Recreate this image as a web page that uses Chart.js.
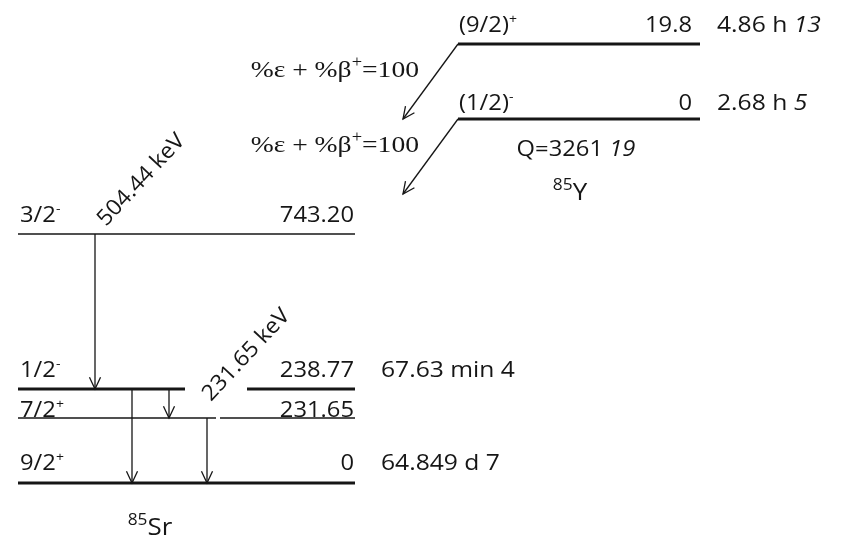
<!DOCTYPE html>
<html>
<head>
<meta charset="utf-8">
<script src="https://cdn.jsdelivr.net/npm/chart.js@4.4.1/dist/chart.umd.min.js"></script>
<style>
  html, body { margin: 0; padding: 0; background: #ffffff; }
  canvas { display: block; }
</style>
</head>
<body>
<canvas id="scheme" width="841" height="546"></canvas>
<script>
// ----- 85Y parent levels (lowest first) -----
const parentNuclide = ['85', 'Y'];
const parentLevelEnergies = ['0', '19.8'];          // keV
const parentSpins = ['(1/2)-', '(9/2)+'];
const parentHalfLives = [['2.68 h', '5'], ['4.86 h', '13']];
const parentQValue = ['3261', '19'];                 // keV
const decayModes = ['%ε + %β+', '%ε + %β+'];
const decayIntensities = [100, 100];

// ----- 85Sr daughter levels (lowest first) -----
const daughterNuclide = ['85', 'Sr'];
const daughterLevelEnergies = ['0', '231.65', '238.77', '743.20'];  // keV
const daughterSpins = ['9/2+', '7/2+', '1/2-', '3/2-'];
const daughterHalfLives = [['64.849 d', '7'], null, ['67.63 min', '4'], null];

// ----- gamma transitions (indices into the daughter levels) -----
const gammaFrom = [3, 2, 2, 1];
const gammaTo = [2, 1, 0, 0];
const gammaLabels = ['504.44 keV', null, null, '231.65 keV'];

// ----- drawing layout (schematic, in drawing units) -----
const layout = {
  daughter: {
    x0: 18, x1: 355,
    rows: [483, 418, 389, 234],
    labelRows: [470, 417, 377, 222],
    thick: [true, false, true, false],
    gaps: [null, [216, 220], [185, 247], null],
    energyRight: 354, halfLifeLeft: 381,
    nuclideX: 150, nuclideRow: 535
  },
  parent: {
    x0: 458, x1: 700,
    rows: [119, 44],
    labelRows: [110, 32],
    energyRight: 692, halfLifeLeft: 717,
    qX: 576, qRow: 156,
    nuclideX: 570, nuclideRow: 200
  },
  gammaX: [95, 169, 132, 207],
  gammaLabelAt: [[106, 227], null, null, [211, 402]],
  gammaLabelAngle: -47,
  decayTipX: 403, decayDrop: 75,
  branchRight: 419, branchRows: [77, 152]
};

const INK = '#161616';
const SANS = '"Open Sans", "Liberation Sans", sans-serif';
const SERIF = '"Liberation Serif", "DejaVu Serif", serif';
const THICK = 3, THIN = 1.3, ARROW_W = 1.3;

// ----- datasets: level lines and transition shafts -----
const datasets = [];

function levelLine(x0, x1, row, width) {
  datasets.push({
    data: [{ x: x0, y: row }, { x: x1, y: row }],
    showLine: true, borderColor: INK, borderWidth: width,
    pointRadius: 0, borderCapStyle: 'butt'
  });
}

daughterLevelEnergies.forEach((e, i) => {
  const L = layout.daughter, w = L.thick[i] ? THICK : THIN, g = L.gaps[i];
  if (g) { levelLine(L.x0, g[0], L.rows[i], w); levelLine(g[1], L.x1, L.rows[i], w); }
  else levelLine(L.x0, L.x1, L.rows[i], w);
});
parentLevelEnergies.forEach((e, i) => {
  const L = layout.parent;
  levelLine(L.x0, L.x1, L.rows[i], THICK);
});

gammaFrom.forEach((f, i) => {
  const x = layout.gammaX[i];
  datasets.push({
    data: [{ x, y: layout.daughter.rows[f] }, { x, y: layout.daughter.rows[gammaTo[i]] }],
    showLine: true, borderColor: INK, borderWidth: ARROW_W, pointRadius: 0, arrow: true
  });
});

decayModes.forEach((m, i) => {
  const row = layout.parent.rows[i];
  datasets.push({
    data: [{ x: layout.parent.x0, y: row }, { x: layout.decayTipX, y: row + layout.decayDrop }],
    showLine: true, borderColor: INK, borderWidth: ARROW_W, pointRadius: 0, arrow: true
  });
});

// ----- rich text helper (superscripts, italics) -----
function drawRich(ctx, x, y, segs, o = {}) {
  const size = o.size || 22, fam = o.family || SANS, st = o.stretch || 1.08;
  const fontFor = s => `${s.italic ? 'italic ' : ''}${s.sup ? Math.round(size * (o.supScale || 0.6)) : size}px ${fam}`;
  let w = 0;
  segs.forEach(s => { ctx.font = fontFor(s); s.w = ctx.measureText(s.t).width; w += s.w; });
  ctx.save();
  ctx.translate(x, y);
  if (o.rotate) ctx.rotate(o.rotate);
  ctx.scale(st, 1);
  let cx = o.align === 'right' ? -w : o.align === 'center' ? -w / 2 : 0;
  ctx.textAlign = 'left';
  ctx.textBaseline = 'alphabetic';
  ctx.fillStyle = INK;
  segs.forEach(s => {
    ctx.font = fontFor(s);
    ctx.fillText(s.t, cx, s.sup ? -size * 0.42 : 0);
    cx += s.w;
  });
  ctx.restore();
}
const spinSegs = s => [{ t: s.slice(0, -1) }, { t: s.slice(-1), sup: true }];

// ----- arrowheads at the end of every transition -----
const arrowHeads = {
  id: 'arrowHeads',
  afterDatasetsDraw(chart) {
    const ctx = chart.ctx;
    chart.data.datasets.forEach((ds, i) => {
      if (!ds.arrow) return;
      const pts = chart.getDatasetMeta(i).data;
      const a = pts[pts.length - 2], b = pts[pts.length - 1];
      const ang = Math.atan2(b.y - a.y, b.x - a.x), len = 13, spread = 0.44;
      ctx.save();
      ctx.strokeStyle = INK;
      ctx.lineWidth = ARROW_W;
      ctx.beginPath();
      ctx.moveTo(b.x - len * Math.cos(ang - spread), b.y - len * Math.sin(ang - spread));
      ctx.lineTo(b.x, b.y);
      ctx.lineTo(b.x - len * Math.cos(ang + spread), b.y - len * Math.sin(ang + spread));
      ctx.stroke();
      ctx.restore();
    });
  }
};

// ----- level labels, half-lives, gamma energies, nuclide names -----
const schemeText = {
  id: 'schemeText',
  afterDatasetsDraw(chart) {
    const ctx = chart.ctx, sx = chart.scales.x, sy = chart.scales.y;
    const px = v => sx.getPixelForValue(v), py = v => sy.getPixelForValue(v);
    const D = layout.daughter, P = layout.parent;

    daughterLevelEnergies.forEach((e, i) => {
      const yb = py(D.labelRows[i]);
      drawRich(ctx, px(D.x0 + 2), yb, spinSegs(daughterSpins[i]));
      drawRich(ctx, px(D.energyRight), yb, [{ t: e }], { align: 'right' });
      const hl = daughterHalfLives[i];
      if (hl) drawRich(ctx, px(D.halfLifeLeft), yb, [{ t: hl[0] + ' ' + hl[1] }], { stretch: 1.12 });
    });

    parentLevelEnergies.forEach((e, i) => {
      const yb = py(P.labelRows[i]);
      drawRich(ctx, px(P.x0 + 1), yb, spinSegs(parentSpins[i]));
      drawRich(ctx, px(P.energyRight), yb, [{ t: e }], { align: 'right' });
      const hl = parentHalfLives[i];
      drawRich(ctx, px(P.halfLifeLeft), yb, [{ t: hl[0] + ' ' }, { t: hl[1], italic: true }], { stretch: 1.12 });
    });

    drawRich(ctx, px(P.qX), py(P.qRow),
      [{ t: 'Q=' + parentQValue[0] + ' ' }, { t: parentQValue[1], italic: true }], { align: 'center' });

    drawRich(ctx, px(P.nuclideX), py(P.nuclideRow),
      [{ t: parentNuclide[0], sup: true }, { t: parentNuclide[1] }], { align: 'center', size: 24, supScale: 0.68 });
    drawRich(ctx, px(D.nuclideX), py(D.nuclideRow),
      [{ t: daughterNuclide[0], sup: true }, { t: daughterNuclide[1] }], { align: 'center', size: 24, supScale: 0.68 });

    decayModes.forEach((m, i) => {
      drawRich(ctx, px(layout.branchRight), py(layout.branchRows[i]),
        [{ t: m.slice(0, -1) }, { t: m.slice(-1), sup: true }, { t: '=' + decayIntensities[i] }],
        { align: 'right', family: SERIF, size: 24, stretch: 1.15, supScale: 0.65 });
    });

    gammaLabels.forEach((g, i) => {
      if (!g) return;
      const at = layout.gammaLabelAt[i];
      drawRich(ctx, px(at[0]), py(at[1]), [{ t: g }],
        { rotate: layout.gammaLabelAngle * Math.PI / 180, stretch: 1.05 });
    });
  }
};

new Chart(document.getElementById('scheme'), {
  type: 'scatter',
  data: { datasets },
  options: {
    responsive: false,
    animation: false,
    events: [],
    layout: { padding: 0 },
    plugins: { legend: { display: false }, tooltip: { enabled: false } },
    scales: {
      x: { type: 'linear', min: 0, max: 841, display: false },
      y: { type: 'linear', min: 0, max: 546, reverse: true, display: false }
    }
  },
  plugins: [arrowHeads, schemeText]
});
</script>
</body>
</html>
